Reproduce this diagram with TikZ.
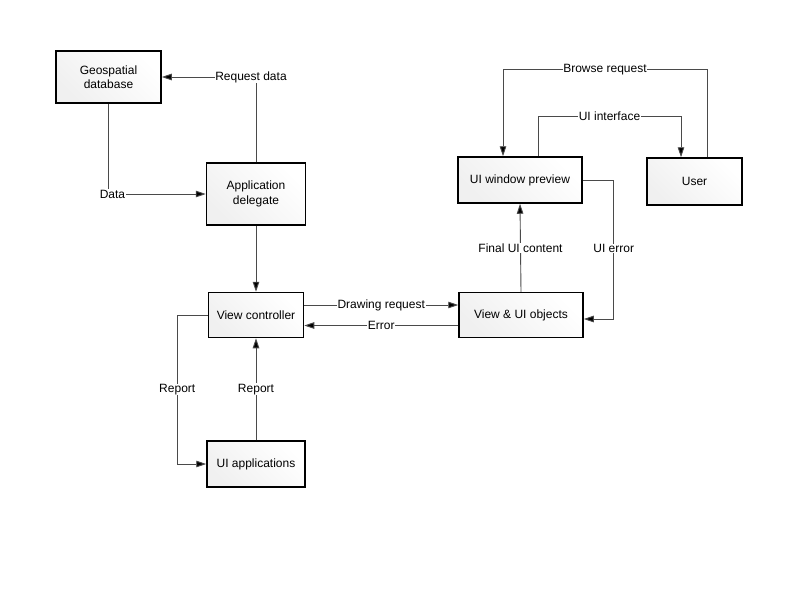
\documentclass[tikz,border=0pt]{standalone}
\usepackage{fontspec}
\setmainfont{Liberation Sans}
\usepackage{xcolor}
\usepackage{tikz}
\usetikzlibrary{arrows.meta}
\definecolor{edge}{HTML}{4A4A4A}
\definecolor{boxlow}{HTML}{F0F0F0}
\tikzset{
  box/.style={draw=black, line width=1.5pt, top color=white, bottom color=boxlow,
    shading angle=-45, align=center, inner sep=2pt,
    font=\fontsize{12}{14.5}\selectfont},
  conn/.style={draw=edge, line width=0.9pt,
    -{Triangle[length=10pt,width=6.5pt,fill=black]}},
  lbl/.style={fill=white, inner sep=0.6pt, text=black,
    font=\fontsize{12}{14}\selectfont}
}

\begin{document}
\begin{tikzpicture}[x=1pt,y=-1pt]
  \useasboundingbox (0,0) rectangle (800,600);

  \node[box, minimum width=105, minimum height=52] (geo) at (108.5,77) {Geospatial\\database};
  \node[box, minimum width=99, minimum height=62] (app) at (256,194) {Application\\delegate};
  \node[box, minimum width=95, minimum height=45] (vc) at (256,315) {View controller};
  \node[box, minimum width=98, minimum height=46] (uiapp) at (256,464) {UI applications};
  \node[box, minimum width=124, minimum height=45] (vui) at (521,315) {View \& UI objects};
  \node[box, minimum width=124, minimum height=46] (uiw) at (520,180) {UI window preview};
  \node[box, minimum width=95, minimum height=47] (user) at (694.5,181.5) {User};

  % left column
  \draw[conn] (app.north) |- node[lbl, pos=0.5, xshift=-5pt] (lreq) {Request data} (geo.east);
  \draw[conn] (geo.south) |- node[lbl, pos=0.5, xshift=4pt] (ldata) {Data} (app.west);
  \draw[conn] (app.south) -- (vc.north);
  \draw[conn] (vc.west) -| ([xshift=-29pt]uiapp.west)
    node[lbl, pos=0.75] (lrep1) {Report} -- (uiapp.west);
  \draw[conn] (uiapp.north) -- node[lbl] (lrep2) {Report} (vc.south);

  % middle
  \draw[conn] ([yshift=10pt]vc.east) -- node[lbl] (ldraw) {Drawing request} ([yshift=10pt]vui.west);
  \draw[conn] ([yshift=-10.5pt]vui.west) -- node[lbl] (lerr) {Error} ([yshift=-10.5pt]vc.east);

  % right column
  \draw[conn] (vui.north) -- node[lbl] (lfinal) {Final UI content} (uiw.south);
  \draw[conn] (uiw.east) -| node[lbl, pos=0.75, yshift=1pt] (luierr) {UI error}
    ([xshift=30pt,yshift=-4pt]vui.east) -- ([yshift=-4pt]vui.east);
  \draw[conn] ([xshift=12.5pt]user.north) -- ++(0,-88)
    -| node[lbl, pos=0.25] (lbrowse) {Browse request} ([xshift=-17pt]uiw.north);
  \draw[conn] ([xshift=18pt]uiw.north) -- ++(0,-40)
    -| node[lbl, pos=0.25] (lif) {UI interface} ([xshift=-13.5pt]user.north);
\end{tikzpicture}
\end{document}
